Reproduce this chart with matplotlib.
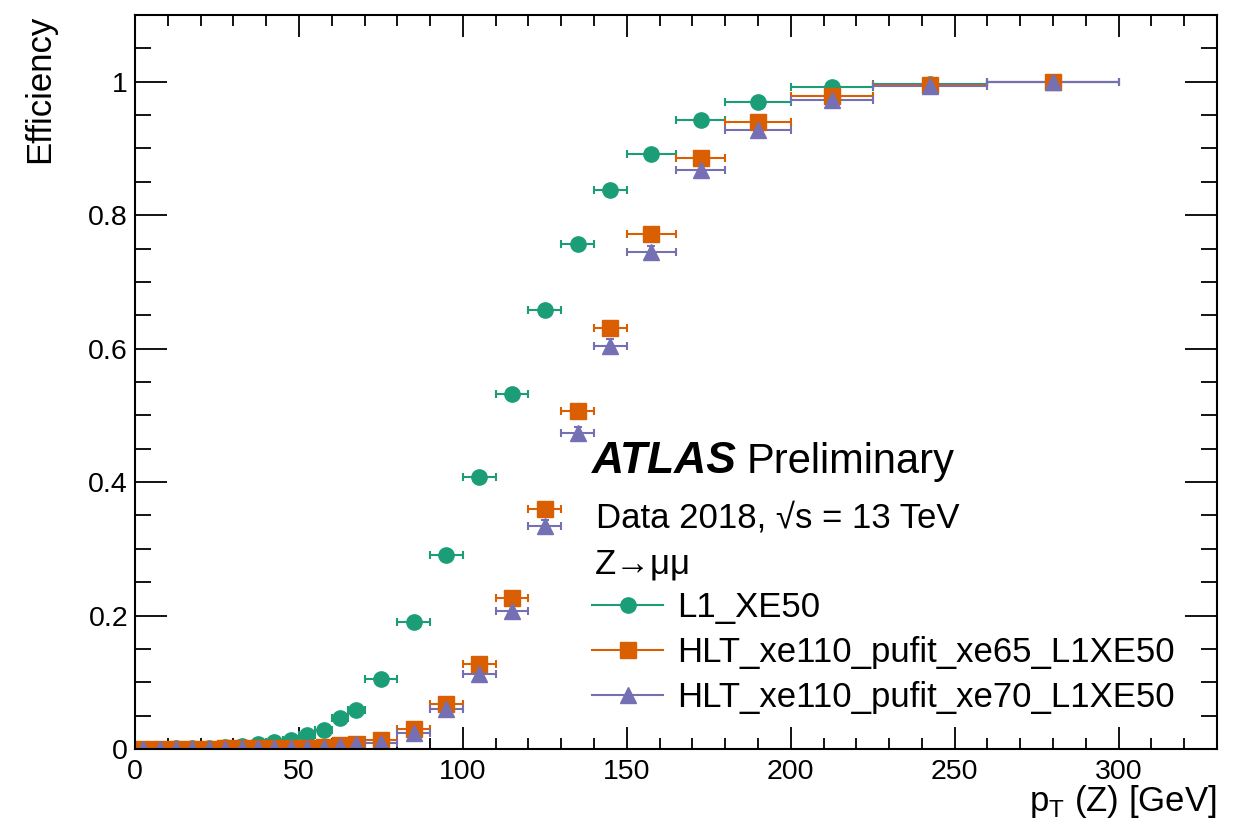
import matplotlib
matplotlib.use("Agg")
import matplotlib.pyplot as plt
from matplotlib.lines import Line2D
from matplotlib.ticker import MultipleLocator
import numpy as np

plt.rcParams['font.family'] = ['Liberation Sans', 'DejaVu Sans']
plt.rcParams['mathtext.fontset'] = 'custom'
plt.rcParams['mathtext.rm'] = 'Liberation Sans'

# bin edges in pT(Z) [GeV]
binEdges = [0, 5, 10, 15, 20, 25, 30, 35, 40, 45, 50, 55, 60, 65, 70,
            80, 90, 100, 110, 120, 130, 140, 150,
            165, 180, 200, 225, 260, 300]

effL1 = [0.0005, 0.0005, 0.001, 0.001, 0.002, 0.003, 0.005, 0.008, 0.011, 0.014,
         0.021, 0.028, 0.046, 0.059, 0.105, 0.19, 0.291, 0.408, 0.532, 0.658,
         0.757, 0.837, 0.892, 0.942, 0.97, 0.992, 0.997, 1.0]
effXe65 = [0.0005, 0.0005, 0.0005, 0.0005, 0.0005, 0.001, 0.001, 0.001, 0.001, 0.0015,
           0.002, 0.003, 0.006, 0.008, 0.0135, 0.03, 0.067, 0.127, 0.226, 0.36,
           0.506, 0.631, 0.772, 0.885, 0.94, 0.978, 0.995, 1.0]
effXe70 = [0.0, 0.0, 0.0, 0.0, 0.0005, 0.0005, 0.001, 0.001, 0.001, 0.001,
           0.0015, 0.002, 0.005, 0.007, 0.009, 0.024, 0.06, 0.112, 0.207, 0.334,
           0.473, 0.604, 0.745, 0.868, 0.927, 0.973, 0.993, 1.0]
# statistical uncertainties (small)
errL1 = [0.0005, 0.0005, 0.0005, 0.0005, 0.001, 0.001, 0.001, 0.001, 0.002, 0.002,
         0.002, 0.003, 0.003, 0.004, 0.004, 0.005, 0.006, 0.007, 0.008, 0.008,
         0.008, 0.008, 0.006, 0.005, 0.004, 0.002, 0.002, 0.001]
errXe65 = [0.0005, 0.0005, 0.0005, 0.0005, 0.0005, 0.0005, 0.0005, 0.0005, 0.0005, 0.001,
           0.001, 0.001, 0.001, 0.002, 0.002, 0.003, 0.004, 0.006, 0.007, 0.009,
           0.010, 0.011, 0.009, 0.007, 0.005, 0.003, 0.002, 0.001]
errXe70 = [0.0005, 0.0005, 0.0005, 0.0005, 0.0005, 0.0005, 0.0005, 0.0005, 0.0005, 0.001,
           0.001, 0.001, 0.001, 0.002, 0.002, 0.003, 0.004, 0.006, 0.007, 0.009,
           0.010, 0.011, 0.009, 0.007, 0.005, 0.003, 0.002, 0.001]

labels = ["L1_XE50", "HLT_xe110_pufit_xe65_L1XE50", "HLT_xe110_pufit_xe70_L1XE50"]
colors = ["#1b9e77", "#d95f02", "#7570b3"]
markers = ["o", "s", "^"]

edges = np.array(binEdges, dtype=float)
centers = (edges[:-1] + edges[1:]) / 2
halfWidths = (edges[1:] - edges[:-1]) / 2

W, H = 1247, 826
fig = plt.figure(figsize=(W / 100, H / 100), dpi=100)
ax = fig.add_axes([135 / W, 1 - 749 / H, (1217 - 135) / W, (749 - 15) / H])

handles = []
for eff, err, c, m, lab in zip([effL1, effXe65, effXe70], [errL1, errXe65, errXe70],
                               colors, markers, labels):
    ax.errorbar(centers, eff, xerr=halfWidths, yerr=err, fmt=m, color=c,
                markersize=11 if m != "^" else 11.5, elinewidth=1.5, capsize=3,
                capthick=1.5)
    handles.append(Line2D([], [], color=c, marker=m, markersize=11, lw=1.5))

ax.set_xlim(0, 330)
ax.set_ylim(0, 1.1)
ax.xaxis.set_major_locator(MultipleLocator(50))
ax.xaxis.set_minor_locator(MultipleLocator(10))
ax.yaxis.set_major_locator(MultipleLocator(0.2))
ax.yaxis.set_minor_locator(MultipleLocator(0.05))
ax.set_yticks([0, 0.2, 0.4, 0.6, 0.8, 1.0])
ax.set_yticklabels(["0", "0.2", "0.4", "0.6", "0.8", "1"])

ax.tick_params(which='both', direction='in', top=True, right=True,
               labelsize=20.5, width=1.3)
ax.xaxis.set_tick_params(which='major', length=16, pad=7)
ax.xaxis.set_tick_params(which='minor', length=8)
ax.yaxis.set_tick_params(which='major', length=23, pad=5)
ax.yaxis.set_tick_params(which='minor', length=11.5)
for s in ax.spines.values():
    s.set_linewidth(1.5)

fig.text(40 / W, 1 - 15 / H, "Efficiency", rotation=90, ha='center', va='top',
         fontsize=25)
fig.text(1217 / W, 1 - 811 / H, r"p$_{\mathrm{T}}$ (Z) [GeV]", ha='right',
         va='baseline', fontsize=25)

fig.text(592 / W, 1 - 473 / H, "ATLAS", fontsize=32, fontweight='bold',
         fontstyle='italic', va='baseline')
fig.text(747 / W, 1 - 473 / H, "Preliminary", fontsize=30, va='baseline')
fig.text(596 / W, 1 - 527 / H, "Data 2018, √s = 13 TeV", fontsize=25, va='baseline')
fig.text(595 / W, 1 - 573 / H, "Z→μμ", fontsize=25, va='baseline')

ax.legend(handles, labels, loc='upper left', bbox_to_anchor=(592 / W, 1 - 591 / H),
          bbox_transform=fig.transFigure, frameon=False, fontsize=25,
          handlelength=2.05, handletextpad=0.4, labelspacing=0.35,
          borderpad=0, borderaxespad=0)

fig.savefig("out.png", dpi=100)
